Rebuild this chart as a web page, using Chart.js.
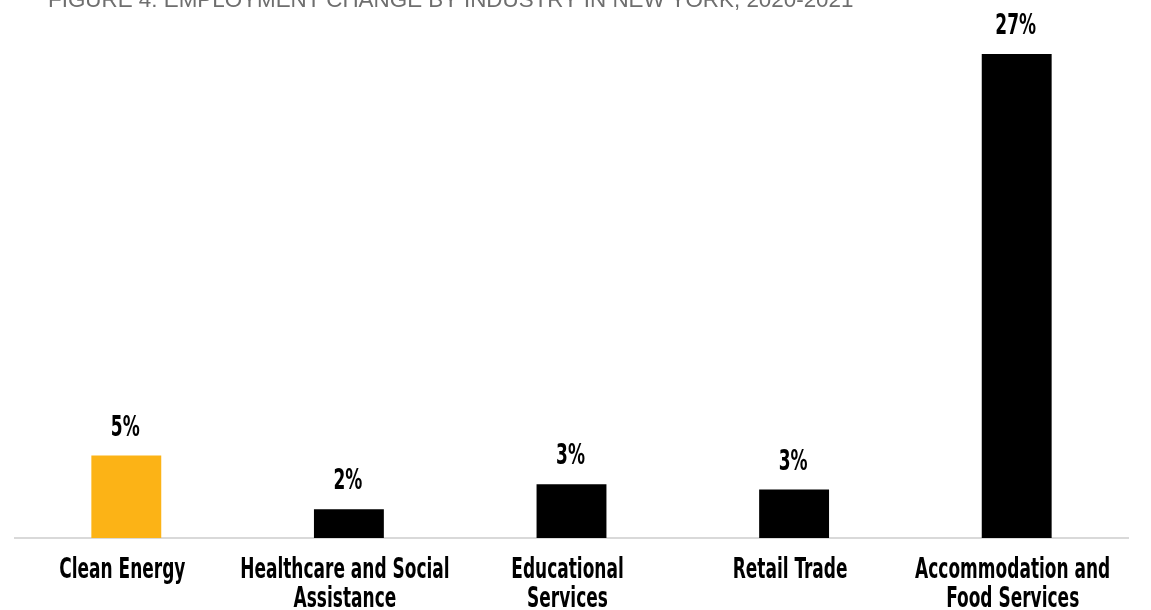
<!DOCTYPE html>
<html lang="en">
  <head>
    <meta charset="UTF-8" />
    <title>Employment Change by Industry in New York, 2020-2021</title>
    <script src="https://cdn.jsdelivr.net/npm/chart.js"></script>
    <style>
      html, body { margin: 0; padding: 0; background: #fff; overflow: hidden; }
      .wrap { position: relative; width: 1151px; height: 610px; }
      .fig-title {
        position: absolute;
        left: 48px;
        top: -11px;
        font: 22.4px "Liberation Sans", Arial, sans-serif;
        line-height: 22px;
        color: #6e6e6e;
        white-space: nowrap;
        z-index: 2;
      }
      canvas { position: absolute; left: 0; top: 0; }
    </style>
  </head>
  <body>
    <div class="wrap">
      <div class="fig-title">FIGURE 4: EMPLOYMENT CHANGE BY INDUSTRY IN NEW YORK, 2020-2021</div>
      <canvas id="empChart" width="1151" height="610"></canvas>
    </div>

<script>
  // industries (multi-line labels) and % change 2020-2021
  const industries = [
    ["Clean Energy"],
    ["Healthcare and Social", "Assistance"],
    ["Educational", "Services"],
    ["Retail Trade"],
    ["Accommodation and", "Food Services"]
  ];
  const pctChange = [4.6, 1.6, 3.0, 2.7, 27.0];
  const barColors = ["#fcb316", "#000000", "#000000", "#000000", "#000000"];

  const labelFont = 'bold 28px "DejaVu Sans Condensed", "DejaVu Sans", sans-serif';
  const squeeze = 0.675;   // narrow the condensed face a bit more

  function narrowText(ctx, text, x, y) {
    ctx.save();
    ctx.translate(x, y);
    ctx.scale(squeeze, 1);
    ctx.fillText(text, 0, 0);
    ctx.restore();
  }

  // category names under the axis + value labels above the bars
  const textLayer = {
    id: "textLayer",
    afterDatasetsDraw(chart) {
      const ctx = chart.ctx;
      const xs = chart.scales.x;
      const meta = chart.getDatasetMeta(0);
      ctx.save();
      ctx.font = labelFont;
      ctx.fillStyle = "#000";
      ctx.textAlign = "center";
      ctx.textBaseline = "alphabetic";
      meta.data.forEach((bar, i) => {
        const v = chart.data.datasets[0].data[i];
        narrowText(ctx, Math.round(v) + "%", bar.x - 1, bar.y - 20);
      });
      chart.data.labels.forEach((lines, i) => {
        const x = xs.getPixelForTick(i) - 4;
        lines.forEach((line, j) => {
          narrowText(ctx, line, x, xs.top + 40 + j * 29);
        });
      });
      ctx.restore();
    }
  };

  new Chart(document.getElementById("empChart"), {
    type: "bar",
    data: {
      labels: industries,
      datasets: [{
        data: pctChange,
        backgroundColor: barColors,
        borderWidth: 0,
        categoryPercentage: 1,
        barPercentage: 0.314
      }]
    },
    options: {
      responsive: false,
      animation: false,
      layout: { padding: { top: 54, left: 15, right: 23, bottom: 0 } },
      plugins: {
        legend: { display: false },
        tooltip: { enabled: false }
      },
      scales: {
        x: {
          grid: { display: false },
          border: { display: true, color: "#d9d9d9", width: 2 },
          ticks: { display: false },
          afterFit(scale) { scale.height = 72; }
        },
        y: {
          display: false,
          min: 0,
          max: 27
        }
      }
    },
    plugins: [textLayer]
  });
</script>
  </body>
</html>
